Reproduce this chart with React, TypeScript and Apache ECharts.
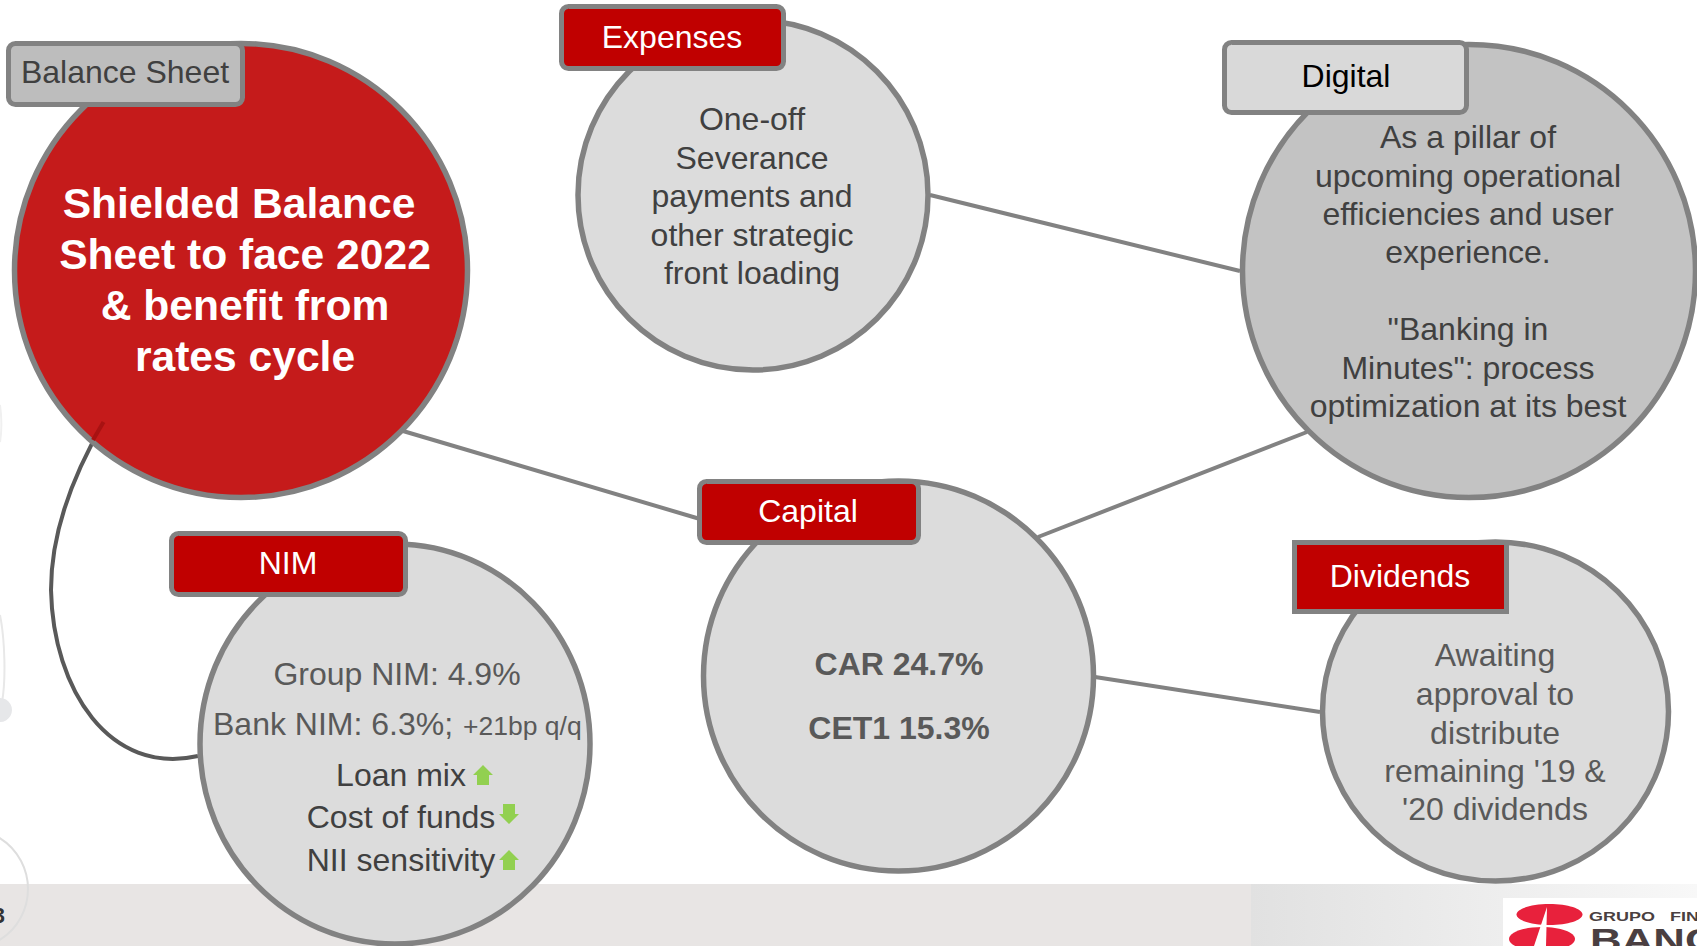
import React, { useEffect, useRef } from "react";
import * as echarts from "echarts";

const W = 1697;
const H = 946;
const FONT = '"Liberation Sans", Arial, sans-serif';

const tagLabels = ["Balance Sheet", "Expenses", "Digital", "NIM", "Capital", "Dividends"];
const headlineLines = ["Shielded Balance", "Sheet to face 2022", "& benefit from", "rates cycle"];
const expensesLines = ["One-off", "Severance", "payments and", "other strategic", "front loading"];
const digitalLines = ["As a pillar of", "upcoming operational", "efficiencies and user", "experience.", '"Banking in', 'Minutes": process', "optimization at its best"];
const dividendsLines = ["Awaiting", "approval to", "distribute", "remaining '19 &", "'20 dividends"];
const capitalLines = ["CAR 24.7%", "CET1 15.3%"];
const nimLines = ["Group NIM: 4.9%", "Bank NIM: 6.3%;", "+21bp q/q"];
const nimDrivers = ["Loan mix", "Cost of funds", "NII sensitivity"];
const logoLines = ["GRUPO   FIN", "BANC"];
const pageNumber = "3";

const GREY = "#828282";
const RED = "#C00000";
const LIGHT = "#DCDCDC";

function text(str: string, x: number, y: number, size: number, fill: string, opts: any = {}) {
  return {
    type: "text",
    silent: true,
    style: {
      text: str,
      x,
      y,
      fontFamily: FONT,
      fontSize: size,
      fontWeight: opts.bold ? "bold" : "normal",
      fill,
      align: opts.align ?? "center",
      verticalAlign: "middle",
    },
  };
}

function ellipse(cx: number, cy: number, rx: number, ry: number, fill: string, stroke = GREY, lineWidth = 5.5) {
  return { type: "ellipse", silent: true, shape: { cx, cy, rx, ry }, style: { fill, stroke, lineWidth } };
}

function tag(x0: number, y0: number, x1: number, y1: number, fill: string, r = 7) {
  return {
    type: "rect",
    silent: true,
    shape: { x: x0 + 2.5, y: y0 + 2.5, width: x1 - x0 - 5, height: y1 - y0 - 5, r },
    style: { fill, stroke: GREY, lineWidth: 5 },
  };
}

function link(x1: number, y1: number, x2: number, y2: number) {
  return { type: "line", silent: true, shape: { x1, y1, x2, y2 }, style: { stroke: GREY, lineWidth: 4 } };
}

function arrow(x: number, y: number, up: boolean) {
  const w = 20;
  const h = 20;
  const head = 10;
  const sx = 4;
  const pts = up
    ? [[x + w / 2, y], [x + w, y + head], [x + w - sx, y + head], [x + w - sx, y + h], [x + sx, y + h], [x + sx, y + head], [x, y + head]]
    : [[x + w / 2, y + h], [x + w, y + h - head], [x + w - sx, y + h - head], [x + w - sx, y], [x + sx, y], [x + sx, y + h - head], [x, y + h - head]];
  return { type: "polygon", silent: true, shape: { points: pts }, style: { fill: "#92D050" } };
}

function curve(x1: number, y1: number, c1x: number, c1y: number, c2x: number, c2y: number, x2: number, y2: number, stroke: string, lineWidth: number) {
  return {
    type: "bezierCurve",
    silent: true,
    shape: { x1, y1, cpx1: c1x, cpy1: c1y, cpx2: c2x, cpy2: c2y, x2, y2 },
    style: { stroke, lineWidth, fill: "none" },
  };
}

function buildGraphics() {
  const g: any[] = [];
  // footer
  g.push({ type: "rect", silent: true, shape: { x: 0, y: 884, width: W, height: H - 884 }, style: { fill: "#E8E5E4" } });
  g.push({
    type: "rect",
    silent: true,
    shape: { x: 1251, y: 884, width: W - 1251, height: H - 884 },
    style: {
      fill: { type: "linear", x: 0, y: 0, x2: 1, y2: 0, colorStops: [{ offset: 0, color: "#E1E1E1" }, { offset: 1, color: "#F8F8F8" }] },
    },
  });
  // faint shapes on the left edge
  g.push(curve(0, 405, 2, 420, 2, 430, 0, 442, "#F0F0F0", 2));
  g.push(curve(0, 615, 5, 640, 6, 680, 2, 702, "#E8E8E8", 2));
  g.push({ type: "circle", silent: true, shape: { cx: 0, cy: 710, r: 12 }, style: { fill: "#E6E7E9" } });
  g.push({ type: "circle", silent: true, shape: { cx: -32, cy: 889, r: 60 }, style: { fill: "none", stroke: "#DEDEDE", lineWidth: 2 } });
  g.push(text(pageNumber, 5, 915, 22, "#333333", { bold: true, align: "right" }));

  // logo
  g.push({ type: "rect", silent: true, shape: { x: 1503, y: 898, width: W - 1503, height: H - 898 }, style: { fill: "#FFFFFF" } });
  g.push(ellipse(1549.5, 914.5, 33, 10.5, "#E8213C", "none", 0));
  g.push(ellipse(1542, 939, 33, 12, "#E8213C", "none", 0));
  g.push({ type: "polygon", silent: true, shape: { points: [[1547, 907], [1534, 946], [1546, 946]] }, style: { fill: "#FFFFFF" } });
  g.push({ type: "text", silent: true, x: 1589, y: 917, scaleX: 1.5, style: { text: logoLines[0], x: 0, y: 0, fontFamily: FONT, fontSize: 12, fontWeight: "bold", fill: "#4A3F41", align: "left", verticalAlign: "middle" } });
  g.push({ type: "text", silent: true, x: 1590, y: 940, scaleX: 1.37, style: { text: logoLines[1], x: 0, y: 0, fontFamily: FONT, fontSize: 32, fontWeight: "bold", fill: "#4A3F41", align: "left", verticalAlign: "middle" } });

  // links and the curved connector
  g.push(link(403, 431, 700, 519));
  g.push(link(930, 195, 1240, 271));
  g.push(link(1038, 537, 1307, 432));
  g.push(link(1095, 677, 1320, 712));
  g.push(curve(104, 422, 70, 480, 51, 535, 51, 590, "#595959", 4));
  g.push(curve(51, 590, 53, 690, 110, 776, 198, 756, "#595959", 4));

  // Balance sheet
  g.push(ellipse(241, 270.5, 226.5, 227, "#C51B1B"));
  g.push({ type: "line", silent: true, shape: { x1: 103.5, y1: 422, x2: 93, y2: 440 }, style: { stroke: "#A81212", lineWidth: 4 } });
  g.push(tag(6, 41, 245, 107, "#BDBDBD"));
  g.push(text(tagLabels[0], 125, 72, 32, "#404040"));
  const headX = [239, 245, 245, 245];
  const headY = [203, 254, 305, 356];
  headlineLines.forEach((s, i) => g.push(text(s, headX[i], headY[i], 42.6, "#FFFFFF", { bold: true })));

  // Expenses
  g.push(ellipse(753, 195, 175, 175, LIGHT));
  g.push(tag(559, 4, 786, 71, RED));
  g.push(text(tagLabels[1], 672, 37, 32, "#FFFFFF"));
  const expY = [119, 158, 196, 235, 273];
  expensesLines.forEach((s, i) => g.push(text(s, 752, expY[i], 32, "#404040")));

  // Digital
  g.push(ellipse(1469, 271, 226.5, 226.5, "#C3C3C3"));
  g.push(tag(1222, 40, 1469, 115, "#D9D9D9"));
  g.push(text(tagLabels[2], 1346, 76, 32, "#000000"));
  const digY = [137, 176, 214, 252, 329, 368, 406];
  digitalLines.forEach((s, i) => g.push(text(s, 1468, digY[i], 32, "#404040")));

  // NIM
  g.push(ellipse(395, 744, 195, 200, LIGHT));
  g.push(tag(169, 531, 408, 597, RED));
  g.push(text(tagLabels[3], 288, 563, 32, "#FFFFFF"));
  g.push(text(nimLines[0], 397, 674, 32, "#595959"));
  g.push(text(nimLines[1], 213, 724, 32, "#595959", { align: "left" }));
  g.push(text(nimLines[2], 463, 726, 26.5, "#595959", { align: "left" }));
  g.push(text(nimDrivers[0], 401, 775, 32, "#404040"));
  g.push(text(nimDrivers[1], 401, 817, 32, "#404040"));
  g.push(text(nimDrivers[2], 401, 860, 32, "#404040"));
  g.push(arrow(473, 765, true));
  g.push(arrow(499, 804, false));
  g.push(arrow(499, 850, true));

  // Capital
  g.push(ellipse(898.5, 676, 195, 195, LIGHT));
  g.push(tag(697, 479, 921, 545, RED));
  g.push(text(tagLabels[4], 808, 511, 32, "#FFFFFF"));
  g.push(text(capitalLines[0], 899, 664, 32, "#595959", { bold: true }));
  g.push(text(capitalLines[1], 899, 728, 32, "#595959", { bold: true }));

  // Dividends
  g.push(ellipse(1495.5, 711.5, 173, 169.5, LIGHT));
  g.push(tag(1292, 540, 1509, 614, RED, 0));
  g.push(text(tagLabels[5], 1400, 576, 32, "#FFFFFF"));
  const divY = [655, 694, 733, 771, 809];
  dividendsLines.forEach((s, i) => g.push(text(s, 1495, divY[i], 32, "#595959")));
  return g;
}

export default function App() {
  const ref = useRef<HTMLDivElement>(null);
  useEffect(() => {
    const chart = echarts.init(ref.current!, null, { renderer: "svg" });
    chart.setOption({ animation: false, backgroundColor: "#FFFFFF", graphic: { elements: buildGraphics() } });
    return () => chart.dispose();
  }, []);
  return <div ref={ref} style={{ position: "fixed", left: 0, top: 0, width: W, height: H }} />;
}
